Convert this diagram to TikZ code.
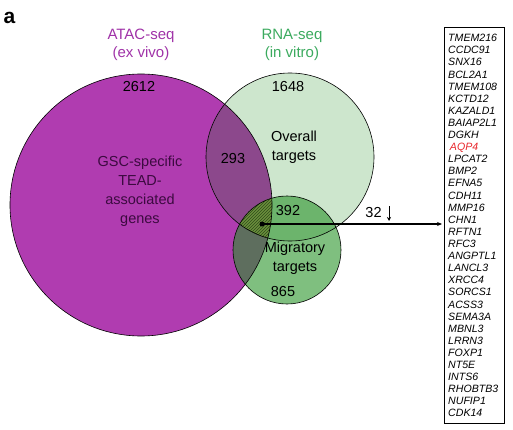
\documentclass[tikz,border=0pt]{standalone}
\usepackage{fontspec}
\setmainfont{Liberation Sans}
\usepackage{xcolor}
\usepackage{tikz}
\usetikzlibrary{arrows.meta, positioning, patterns}
\definecolor{atacfill}{HTML}{B03CB0}
\definecolor{atactext}{HTML}{A033A8}
\definecolor{rnatext}{HTML}{3BAA5E}
\definecolor{overallfill}{HTML}{CDE6CD}
\definecolor{sharedfill}{HTML}{8C488C}
\definecolor{migfill}{HTML}{7FBF7F}
\definecolor{migoverfill}{HTML}{6CB46C}
\definecolor{migatacfill}{HTML}{5E6E5E}
\definecolor{triplefill}{HTML}{6A8F3C}
\definecolor{triplehatch}{HTML}{2F4A1A}
\definecolor{gsctext}{HTML}{3C0A40}
\definecolor{aqpred}{HTML}{E8252A}
\tikzset{
    venncircle/.style={
        draw=black,
        line width=0.6pt
    },
    heading/.style={
        font=\fontsize{15}{18}\selectfont,
        align=center,
        inner sep=0pt
    },
    count/.style={
        font=\fontsize{14.5}{19}\selectfont,
        align=center,
        inner sep=0pt,
        text=black
    },
    genebox/.style={
        rectangle,
        draw=black,
        line width=0.6pt,
        minimum width=60pt,
        minimum height=396pt,
        inner sep=0pt,
        anchor=north west
    },
    gene/.style={
        font=\fontsize{10.6}{12.1}\selectfont\itshape,
        anchor=base west,
        inner sep=0pt
    },
    link/.style={
        draw=black,
        line width=1.2pt,
        -{Stealth[length=5pt, width=4pt]}
    }
}

\begin{document}
\begin{tikzpicture}[x=1pt, y=-1pt]
\useasboundingbox (0,0) rectangle (513,430);

% Circle centres
\coordinate (atac) at (141,205);
\coordinate (overall) at (290,157);
\coordinate (migr) at (287,250);

% ATAC-seq and overall RNA-seq sets
\fill[atacfill] (atac) circle (131pt);
\fill[overallfill] (overall) circle (84pt);
\begin{scope}
  \clip (atac) circle (131pt);
  \fill[sharedfill] (overall) circle (84pt);
\end{scope}

% Migratory targets
\fill[migfill] (migr) circle (54pt);
\begin{scope}
  \clip (migr) circle (54pt);
  \fill[migoverfill] (overall) circle (84pt);
  \fill[migatacfill] (atac) circle (131pt);
  \clip (atac) circle (131pt);
  \clip (overall) circle (84pt);
  \fill[triplefill] (migr) circle (54pt);
  \fill[pattern=north east lines, pattern color=triplehatch] (migr) circle (54pt);
\end{scope}

\draw[venncircle] (atac) circle (131pt);
\draw[venncircle] (overall) circle (84pt);
\draw[venncircle] (migr) circle (54pt);

% Panel letter and set titles
\node[font=\fontsize{21}{21}\selectfont\bfseries, inner sep=0pt] (panel) at (9.5,18) {a};
\node[heading, text=atactext] (atactitle) at (141,45) {ATAC-seq\\(ex vivo)};
\node[heading, text=rnatext] (rnatitle) at (292,45) {RNA-seq\\(in vitro)};

% Counts and region labels
\node[count] (n2612) at (139,87) {2612};
\node[count] (n1648) at (288,87) {1648};
\node[count] (n293) at (233,159) {293};
\node[count] (overalltext) at (294,147) {Overall\\targets};
\node[count, text=gsctext] (gsctext) at (140,191) {GSC-specific\\TEAD-\\associated\\genes};
\node[count] (n392) at (288,211) {392};
\node[count] (migtext) at (295,258) {Migratory\\targets};
\node[count] (n865) at (283,292) {865};

% Gene list
\node[genebox] (genes) at (444,27) {};
\foreach \g [count=\i from 0] in {TMEM216, CCDC91, SNX16, BCL2A1, TMEM108, KCTD12,
    KAZALD1, BAIAP2L1, DGKH, {\textcolor{aqpred}{\,AQP4}}, LPCAT2, BMP2, EFNA5,
    CDH11, MMP16, CHN1, RFTN1, RFC3, ANGPTL1, LANCL3, XRCC4, SORCS1, ACSS3,
    SEMA3A, MBNL3, LRRN3, FOXP1, NT5E, INTS6, RHOBTB3, NUFIP1, CDK14}
  \node[gene] (g\i) at (448,41.8+12.1*\i) {\g};

% Link from the triple overlap to the list
\coordinate (hub) at (262,224);
\fill (hub) circle (2.5pt);
\draw[link, shorten >=2pt] (hub) -- (hub -| genes.west);
\node[count] (n32) at (373.5,213) {32};
\coordinate (downtop) at (389,206);
\coordinate (downend) at (389,221);
\draw[line width=0.9pt, -{Stealth[length=4pt, width=4pt]}] (downtop) -- (downend);

\end{tikzpicture}
\end{document}
